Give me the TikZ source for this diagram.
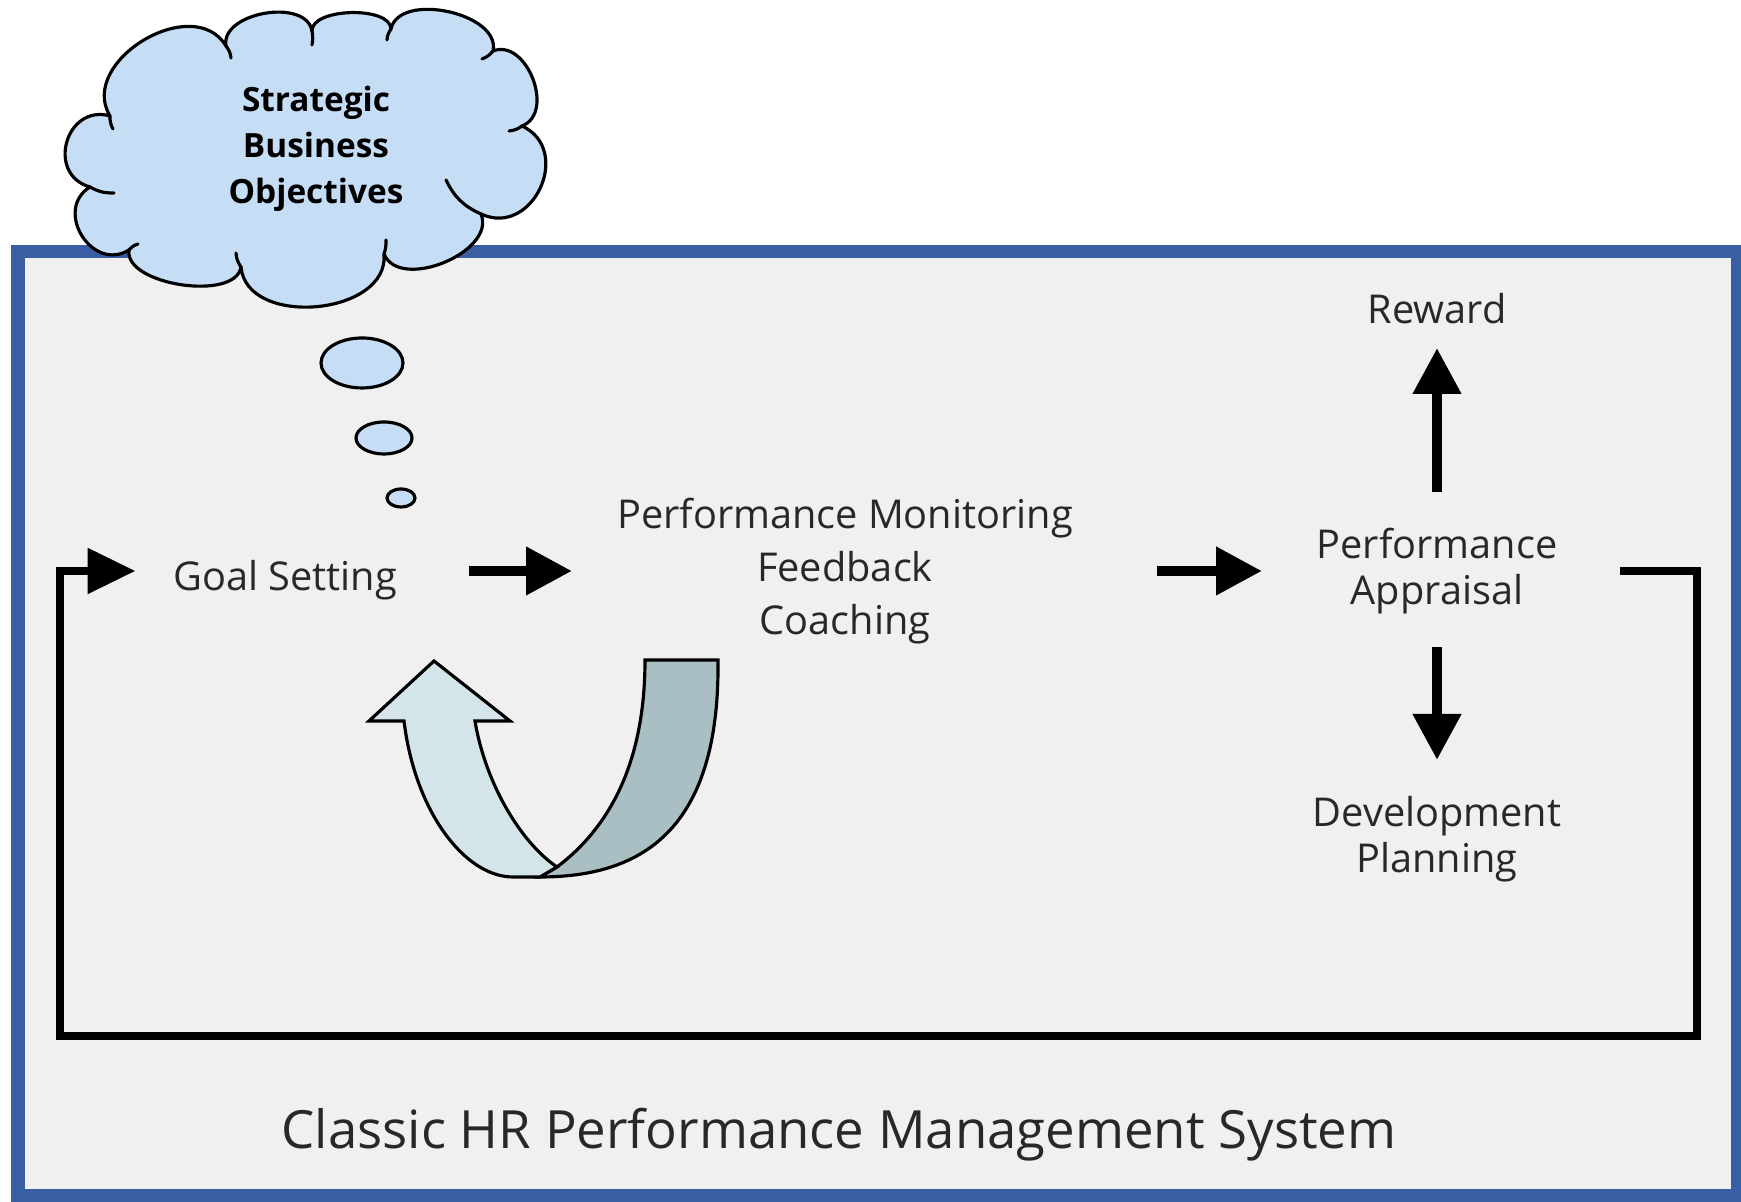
\documentclass[tikz,border=0pt]{standalone}
\usepackage{fontspec}
\setmainfont{Open Sans}
\usetikzlibrary{arrows.meta}

\definecolor{frameblue}{RGB}{58,94,163}
\definecolor{panelgray}{RGB}{240,240,240}
\definecolor{cloudblue}{RGB}{197,222,245}
\definecolor{turnlight}{RGB}{212,229,234}
\definecolor{turndark}{RGB}{169,191,196}
\definecolor{labelgray}{RGB}{40,40,40}

\begin{document}
\begin{tikzpicture}[
    label/.style={text=labelgray, align=center, inner sep=0pt, font=\fontsize{11.3}{13}\selectfont},
    flow/.style={-{Triangle[length=4.6mm, width=4.6mm]}, line width=3pt},
    loopback/.style={-{Triangle[length=4.8mm, width=4.4mm]}, line width=2.5pt, line join=miter},
    bubble/.style={draw, line width=0.9pt, fill=cloudblue},
    puff/.style={bend left=90, looseness=#1}
]
    \useasboundingbox (0,0) rectangle (17.41,12.02);
    \fill[white] (0,0) rectangle (17.41,12.02);

    % Panel
    \draw[line width=3.7pt, draw=frameblue, fill=panelgray] (0.18,0.06) rectangle (17.37,9.50);

    % Cloud, drawn puff by puff, clockwise from the upper left
    \draw[bubble, line join=round] (1.10,10.86)
        to[puff=1.2] (2.26,11.56) to[puff=1.0] (3.12,11.71) to[puff=0.75] (3.91,11.73)
        to[puff=0.95] (4.93,11.51) to[puff=1.15] (5.22,10.76) to[puff=1.5] (4.81,9.88)
        to[puff=1.0] (3.84,9.48) to[puff=1.1] (2.41,9.35) to[puff=0.8] (1.29,9.52)
        to[puff=1.5] (0.90,10.15) to[puff=1.6] (1.10,10.86) -- cycle;
    % little curls where the puffs meet
    \draw[line width=0.9pt, line cap=round]
        (1.10,10.86) to[bend right=15] (1.13,10.73)
        (2.26,11.56) to[bend left=15] (2.31,11.44)
        (3.12,11.71) to[bend left=10] (3.12,11.57)
        (3.91,11.73) to[bend right=15] (3.87,11.62)
        (4.93,11.51) to[bend left=15] (4.82,11.43)
        (5.22,10.76) to[bend left=15] (5.09,10.71)
        (4.81,9.88) to[bend left=20] (4.46,10.22)
        (3.84,9.48) to[bend right=10] (3.86,9.62)
        (2.41,9.35) to[bend left=15] (2.36,9.49)
        (1.29,9.52) to[bend left=15] (1.38,9.58)
        (0.90,10.15) to[bend right=15] (1.14,10.09);
    \node[align=center, inner sep=0pt, font=\bfseries\fontsize{9.5}{13}\selectfont] (objectives)
        at (3.16,10.53) {Strategic\\Business\\Objectives};
    \draw[bubble] (3.62,8.39) ellipse [x radius=0.41, y radius=0.25];
    \draw[bubble] (3.84,7.64) ellipse [x radius=0.28, y radius=0.16];
    \draw[bubble] (4.01,7.04) ellipse [x radius=0.14, y radius=0.09];

    % Process steps
    \node[label] (goal) at (2.85,6.22) {Goal Setting};
    \node[label, font=\fontsize{11.3}{15}\selectfont] (monitor) at (8.45,6.31)
        {Performance Monitoring\\Feedback\\Coaching};
    \node[label] (appraisal) at (14.37,6.31) {Performance\\Appraisal};
    \node[label] (reward) at (14.37,8.93) {Reward};
    \node[label] (development) at (14.37,3.63) {Development\\Planning};

    % Arrows between the steps
    \draw[flow] ([xshift=18.35mm]goal.center |- monitor.center) -- ([xshift=-27.3mm]monitor.center);
    \draw[flow] ([xshift=31.2mm]monitor.center) -- ([xshift=-17.5mm]appraisal.center);
    \draw[flow] ([yshift=7.9mm]appraisal.center) -- ([yshift=-3.9mm]reward.center);
    \draw[flow] ([yshift=-7.6mm]appraisal.center) -- ([yshift=7.9mm]development.center);

    % Back to the start
    \draw[loopback] ([xshift=18.3mm]appraisal.center) -| (16.97,1.66) -| (0.60,6.31)
        -- ([xshift=-14.95mm]goal.center |- monitor.center);

    % U-turn arrow under the first step
    \draw[line width=0.9pt, fill=turndark] (6.45,5.42) -- (7.18,5.42)
        .. controls (7.2,3.7) and (6.4,3.25) .. (5.40,3.25) -- (5.57,3.35)
        .. controls (6.1,3.75) and (6.45,4.4) .. (6.45,5.42) -- cycle;
    \draw[line width=0.9pt, line join=miter, fill=turnlight] (4.04,4.81) -- (3.69,4.81) -- (4.34,5.41)
        -- (5.10,4.81) -- (4.75,4.81) .. controls (4.85,4.2) and (5.2,3.6) .. (5.57,3.35)
        -- (5.40,3.25) -- (5.13,3.25) .. controls (4.65,3.25) and (4.15,3.9) .. (4.04,4.81) -- cycle;

    % Caption
    \node[text=labelgray, font=\fontsize{15}{18}\selectfont] (caption) at (8.39,0.67)
        {Classic HR Performance Management System};
\end{tikzpicture}
\end{document}
